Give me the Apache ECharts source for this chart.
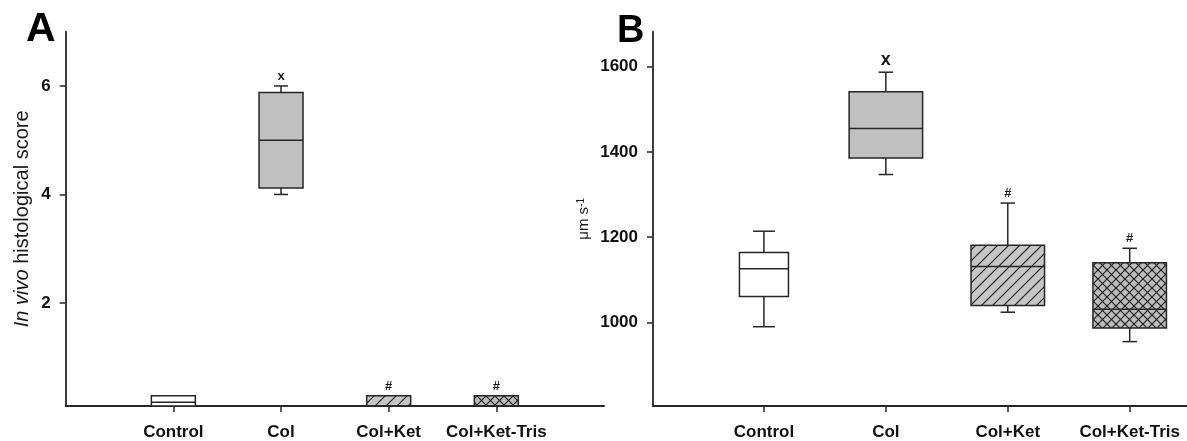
<!DOCTYPE html>
<html>
<head>
<meta charset="utf-8">
<script src="https://cdn.jsdelivr.net/npm/echarts@6/dist/echarts.min.js"></script>
<style>
html,body{margin:0;padding:0;background:#fff;}
#chart{width:1187px;height:441px;}
</style>
</head>
<body>
<div id="chart"></div>
<script>
// ---- data ----
const categories = ['Control', 'Col', 'Col+Ket', 'Col+Ket-Tris'];
// [min, Q1, median, Q3, max]
const scoreA = [
  [0.1, 0.1, 0.17, 0.29, 0.29],
  [4.0, 4.12, 5.0, 5.88, 6.0],
  [0.1, 0.1, 0.1, 0.29, 0.29],
  [0.1, 0.1, 0.1, 0.29, 0.29]
];
const velocityB = [
  [990, 1061, 1126, 1164, 1214],
  [1347, 1386, 1455, 1541, 1587],
  [1024, 1040, 1131, 1181, 1280],
  [955, 987, 1031, 1140, 1174]
];
const marksA = ['', 'x', '#', '#'];
const marksB = ['', 'x', '#', '#'];
const yTicksA = [2, 4, 6];
const yTicksB = [1000, 1200, 1400, 1600];
const xTicks = [1, 2, 3, 4];

// ---- styles ----
const FONT = "'Liberation Sans', Arial, sans-serif";
const INK = '#262626';
const boxWidthA = [44, 44, 44, 44];
const capWidthA = [14, 14, 14, 14];
const boxWidthB = [49, 73.5, 73.5, 73.5];
const capWidthB = [22, 14.5, 14.5, 14.5];
const markFontA = ['', 'bold 13px ' + FONT, 'bold 13px ' + FONT, 'bold 13px ' + FONT];
const markFontB = ['', 'bold 18px ' + FONT, 'bold 13px ' + FONT, 'bold 13px ' + FONT];

function makePattern(kind) {
  const s = kind === 'cross' ? 9 : 11;
  const c = document.createElement('canvas');
  c.width = s; c.height = s;
  const g = c.getContext('2d');
  g.fillStyle = kind === 'cross' ? '#bcbcbc' : '#c6c6c6';
  g.fillRect(0, 0, s, s);
  g.strokeStyle = '#222222';
  g.lineWidth = 1.2;
  const diag = (x0, y0, x1, y1) => { g.beginPath(); g.moveTo(x0, y0); g.lineTo(x1, y1); g.stroke(); };
  diag(-1, s + 1, s + 1, -1);
  diag(-1, 1, 1, -1);
  diag(s - 1, s + 1, s + 1, s - 1);
  if (kind === 'cross') {
    diag(-1, -1, s + 1, s + 1);
    diag(s - 1, -1, s + 1, 1);
    diag(-1, s - 1, 1, s + 1);
  }
  return { image: c, repeat: 'repeat' };
}
const fills = ['#ffffff', '#c0c0c0', makePattern('hatch'), makePattern('cross')];

function makeRender(boxW, capW, marks, markFonts) {
  return function (params, api) {
    const i = params.dataIndex;
    const x = api.value(0);
    const pMin = api.coord([x, api.value(1)]);
    const pQ1 = api.coord([x, api.value(2)]);
    const pMed = api.coord([x, api.value(3)]);
    const pQ3 = api.coord([x, api.value(4)]);
    const pMax = api.coord([x, api.value(5)]);
    const cx = pMin[0];
    const hw = boxW[i] / 2, hc = capW[i] / 2;
    const ls = { stroke: INK, lineWidth: 1.5 };
    const ch = [];
    if (pMax[1] < pQ3[1] - 0.5) {
      ch.push({ type: 'line', shape: { x1: cx, y1: pMax[1], x2: cx, y2: pQ3[1] }, style: ls });
      ch.push({ type: 'line', shape: { x1: cx - hc, y1: pMax[1], x2: cx + hc, y2: pMax[1] }, style: ls });
    }
    if (pMin[1] > pQ1[1] + 0.5) {
      ch.push({ type: 'line', shape: { x1: cx, y1: pQ1[1], x2: cx, y2: pMin[1] }, style: ls });
      ch.push({ type: 'line', shape: { x1: cx - hc, y1: pMin[1], x2: cx + hc, y2: pMin[1] }, style: ls });
    }
    ch.push({
      type: 'rect',
      shape: { x: cx - hw, y: pQ3[1], width: 2 * hw, height: pQ1[1] - pQ3[1] },
      style: { fill: fills[i], stroke: INK, lineWidth: 1.5 }
    });
    ch.push({ type: 'line', shape: { x1: cx - hw, y1: pMed[1], x2: cx + hw, y2: pMed[1] }, style: ls });
    if (marks[i]) {
      ch.push({
        type: 'text',
        style: { text: marks[i], x: cx, y: pMax[1] - 3, align: 'center', verticalAlign: 'bottom', font: markFonts[i], fill: '#1a1a1a' }
      });
    }
    return { type: 'group', children: ch };
  };
}

const dataA = scoreA.map((v, i) => [xTicks[i]].concat(v));
const dataB = velocityB.map((v, i) => [xTicks[i]].concat(v));

const tickLabel = { fontFamily: FONT, fontWeight: 'bold', fontSize: 17, color: '#111' };

function xAxisFor(gridIndex, min, max) {
  return {
    type: 'value', gridIndex, min, max,
    splitLine: { show: false },
    axisLine: { show: true, onZero: false, lineStyle: { color: INK, width: 1.8 } },
    axisTick: { show: true, length: 6, inside: false, customValues: xTicks, lineStyle: { color: INK, width: 1.5 } },
    axisLabel: Object.assign({ customValues: xTicks, margin: 18, formatter: v => categories[Math.round(v) - 1] || '' }, tickLabel)
  };
}
function yAxisFor(gridIndex, min, max, ticks, name, nameGap, nameStyle) {
  return {
    type: 'value', gridIndex, min, max,
    splitLine: { show: false },
    axisLine: { show: true, lineStyle: { color: INK, width: 1.8 } },
    axisTick: { show: true, length: 6, customValues: ticks, lineStyle: { color: INK, width: 1.5 } },
    axisLabel: Object.assign({ customValues: ticks, margin: 15, formatter: v => String(v) }, tickLabel),
    name, nameLocation: 'middle', nameGap, nameRotate: 90,
    nameTextStyle: nameStyle
  };
}

const chart = echarts.init(document.getElementById('chart'), null, { renderer: 'canvas' });
chart.setOption({
  backgroundColor: '#ffffff',
  animation: false,
  grid: [
    { left: 65.7, top: 31.7, width: 538.3, height: 375 },
    { left: 653, top: 31.7, width: 534, height: 375.6 }
  ],
  xAxis: [xAxisFor(0, 0, 5), xAxisFor(1, 0.09, 4.47)],
  yAxis: [
    yAxisFor(0, 0.1, 7, yTicksA, '{i|In vivo} histological score', 33,
      { fontFamily: FONT, fontSize: 20, color: '#1a1a1a', rich: { i: { fontFamily: FONT, fontSize: 20, fontStyle: 'italic', color: '#1a1a1a' } } }),
    yAxisFor(1, 804, 1682, yTicksB, '{a|μm s}{s|-1}', 62,
      { fontFamily: FONT, fontSize: 15, color: '#1a1a1a', rich: { a: { fontFamily: FONT, fontSize: 15, color: '#1a1a1a' }, s: { fontFamily: FONT, fontSize: 10, verticalAlign: 'top', color: '#1a1a1a' } } })
  ],
  graphic: [
    { type: 'text', left: 26, top: 9, style: { text: 'A', font: 'bold 41px ' + FONT, fill: '#000' } },
    { type: 'text', left: 617, top: 13, style: { text: 'B', font: 'bold 38px ' + FONT, fill: '#000' } }
  ],
  series: [
    { type: 'custom', name: 'In vivo histological score', xAxisIndex: 0, yAxisIndex: 0, data: dataA,
      encode: { x: 0, y: [1, 2, 3, 4, 5] }, renderItem: makeRender(boxWidthA, capWidthA, marksA, markFontA) },
    { type: 'custom', name: 'velocity', xAxisIndex: 1, yAxisIndex: 1, data: dataB,
      encode: { x: 0, y: [1, 2, 3, 4, 5] }, renderItem: makeRender(boxWidthB, capWidthB, marksB, markFontB) }
  ]
});
</script>
</body>
</html>
